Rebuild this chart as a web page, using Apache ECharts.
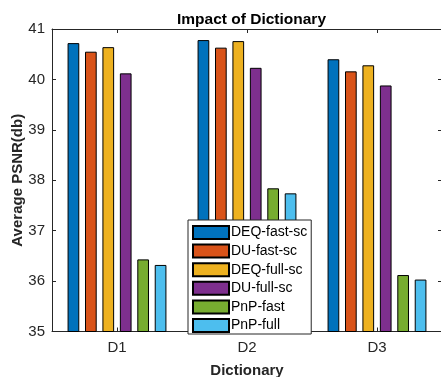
<!DOCTYPE html>
<html>
<head>
<meta charset="utf-8">
<script src="https://cdn.jsdelivr.net/npm/echarts@6/dist/echarts.min.js"></script>
<style>html,body{margin:0;padding:0;background:#fff;}#c{width:441px;height:377px;}</style>
</head>
<body>
<div id="c"></div>
<script>
const categories = ['D1', 'D2', 'D3'];
const seriesNames = ['DEQ-fast-sc', 'DU-fast-sc', 'DEQ-full-sc', 'DU-full-sc', 'PnP-fast', 'PnP-full'];
const deqFastSc = [40.72, 40.78, 40.40];
const duFastSc = [40.55, 40.63, 40.16];
const deqFullSc = [40.64, 40.76, 40.28];
const duFullSc = [40.12, 40.23, 39.88];
const pnpFast = [36.43, 37.84, 36.12];
const pnpFull = [36.32, 37.74, 36.03];
const yTicks = [35, 36, 37, 38, 39, 40, 41];

const values = [deqFastSc, duFastSc, deqFullSc, duFullSc, pnpFast, pnpFull];
const colors = ['#0072BD', '#D95319', '#EDB120', '#7E2F8E', '#77AC30', '#4DBEEE'];
const axisColor = '#262626';
const font = 'Liberation Sans, Arial, Helvetica, sans-serif';

const chart = echarts.init(document.getElementById('c'), null, {renderer: 'canvas'});
chart.setOption({
  animation: false,
  backgroundColor: '#fff',
  textStyle: {fontFamily: font},
  title: {
    text: 'Impact of Dictionary',
    left: 172, top: 7,
    textStyle: {fontSize: 15.5, fontWeight: 'bold', color: '#000', fontFamily: font}
  },
  grid: {left: 52, right: -1, top: 29, bottom: 45.5, containLabel: false, outerBoundsMode: 'none'},
  legend: {
    orient: 'vertical',
    left: 188, top: 220,
    padding: [5, 4, 1, 4],
    icon: 'rect',
    itemWidth: 36, itemHeight: 13, itemGap: 3.6,
    backgroundColor: '#fff',
    borderColor: axisColor, borderWidth: 1,
    textStyle: {fontSize: 14, lineHeight: 14, color: '#000', fontFamily: font, padding: [0, 0, 0, -3]},
    data: seriesNames
  },
  xAxis: [{
    type: 'category', data: categories, position: 'bottom',
    axisLine: {lineStyle: {color: axisColor, width: 1}},
    axisTick: {show: true, inside: true, length: 4, alignWithLabel: true, lineStyle: {color: axisColor}},
    axisLabel: {fontSize: 15, color: axisColor, margin: 9, fontFamily: font},
    name: 'Dictionary', nameLocation: 'middle', nameGap: 32,
    nameTextStyle: {fontSize: 15, fontWeight: 'bold', color: axisColor, fontFamily: font}
  }, {
    type: 'category', data: categories, position: 'top',
    axisLine: {lineStyle: {color: axisColor, width: 1}},
    axisTick: {show: true, inside: true, length: 4, alignWithLabel: true, lineStyle: {color: axisColor}},
    axisLabel: {show: false}
  }],
  yAxis: [{
    type: 'value', min: 35, max: 41, interval: 1, position: 'left',
    axisLine: {show: true, lineStyle: {color: axisColor, width: 1}},
    axisTick: {show: true, inside: true, length: 4, lineStyle: {color: axisColor}},
    axisLabel: {fontSize: 15, color: axisColor, margin: 7, fontFamily: font,
      formatter: v => yTicks.includes(v) ? String(v) : ''},
    splitLine: {show: false},
    name: 'Average PSNR(db)', nameLocation: 'middle', nameGap: 27, nameMoveOverlap: false,
    nameTextStyle: {fontSize: 15, fontWeight: 'bold', color: axisColor, fontFamily: font}
  }, {
    type: 'value', min: 35, max: 41, interval: 1, position: 'right',
    axisLine: {show: true, lineStyle: {color: axisColor, width: 1}},
    axisTick: {show: true, inside: true, length: 4, lineStyle: {color: axisColor}},
    axisLabel: {show: false},
    splitLine: {show: false}
  }],
  series: seriesNames.map((n, i) => ({
    name: n, type: 'bar', xAxisIndex: 0, yAxisIndex: 0,
    data: values[i],
    barWidth: 11.7, barGap: '49%',
    itemStyle: {color: colors[i], borderColor: '#000', borderWidth: 1}
  }))
});
</script>
</body>
</html>
